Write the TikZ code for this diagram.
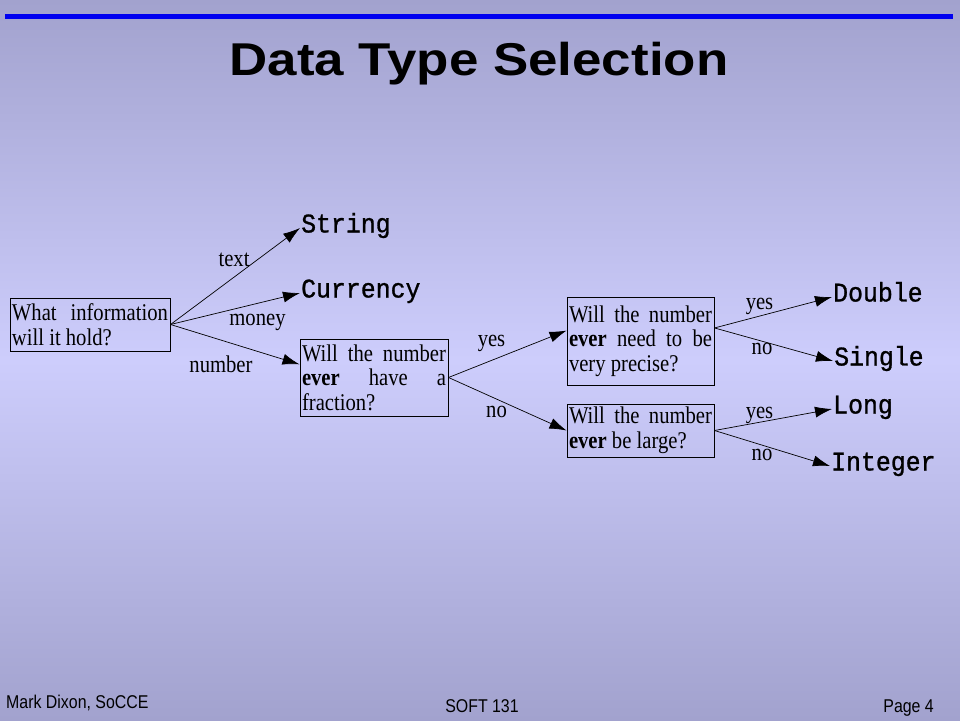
\documentclass[tikz,border=0pt]{standalone}
\usepackage{fontspec}
\setmainfont{Liberation Serif}[FakeStretch=0.86]
\newfontfamily\monofnt{Liberation Mono}[FakeStretch=0.92, FakeBold=1]
\newfontfamily\titlefnt{Liberation Sans}[FakeStretch=1.15]
\newfontfamily\footfnt{Liberation Sans}[FakeStretch=0.86]
\usetikzlibrary{arrows.meta}

\definecolor{bgedge}{RGB}{162,162,206}
\definecolor{bgmid}{RGB}{205,205,252}
\definecolor{topline}{RGB}{0,0,240}
\newcommand\qfnt{\fontsize{24}{24.5}\selectfont}
\hbadness=10000

\begin{document}
\begin{tikzpicture}[x=1pt, y=-1pt,
  question/.style={draw, line width=1pt, inner sep=2pt, align=justify, font=\qfnt},
  target/.style={anchor=west, inner sep=1pt, text height=15pt, text depth=6pt, font=\monofnt\fontsize{27}{30}\selectfont},
  lbl/.style={anchor=base, inner sep=0pt, font=\qfnt},
  foot/.style={inner sep=0pt, font=\footfnt\fontsize{18.5}{22}\selectfont},
  link/.style={line width=0.7pt, -{Latex[length=17pt,width=11pt]}}]
\useasboundingbox (0,0) rectangle (960,720);
\shade[top color=bgedge, bottom color=bgedge, middle color=bgmid] (0,0) rectangle (960,720);

%title
\draw[topline, line width=5pt] (5,16) -- (953,16);
\node[anchor=base, inner sep=0pt, font=\titlefnt\bfseries\fontsize{46}{54}\selectfont] (title) at (479,75) {Data Type Selection};

%questions
\node[question, text width=156pt, minimum height=53pt] (hold) at (90,324.5) {What information\linebreak will it hold?};
\node[question, text width=144pt, minimum height=77pt] (frac) at (374,377.5) {Will the number\linebreak \textbf{ever} have a\linebreak fraction?};
\node[question, text width=143pt, minimum height=88pt] (prec) at (640.5,341) {Will the number\linebreak \textbf{ever} need to be\linebreak very precise?};
\node[question, text width=143pt, minimum height=53pt] (large) at (640.5,430.5) {Will the number\linebreak \textbf{ever} be large?};

%data types
\foreach \nm/\x/\y/\txt in {str/300/228/String, cur/300/293/Currency, dbl/832/297/Double,
  sgl/833/361/Single, lng/832/409/Long, int/830/466/Integer}
{ \node[target] (\nm) at (\x,\y) {\txt}; }

%arrows
\draw[link] (hold.east) -- (str.west);
\draw[link] (hold.east) -- (cur.west);
\draw[link] (hold.east) -- (frac.170);
\draw[link] (frac.east) -- (prec.172);
\draw[link] (frac.east) -- (large.west);
\draw[link] (prec.10) -- (dbl.west);
\draw[link] (prec.10) -- (sgl.west);
\draw[link] (large.east) -- (lng.west);
\draw[link] (large.east) -- (int.west);

%labels
\foreach \nm/\x/\y/\txt in {ltext/234/266/text, lmoney/257.5/325/money, lnumber/221/372/number,
  lyesa/491.5/346/yes, lnoa/496.5/417/no, lyesb/759.5/309/yes, lnob/762/354/no,
  lyesc/759.5/418/yes, lnoc/762/460/no}
{ \node[lbl] (\nm) at (\x,\y) {\txt}; }

%footer
\node[foot, anchor=base west] (author) at (6,708) {Mark Dixon, SoCCE};
\node[foot, anchor=base] (course) at (482,712) {SOFT 131};
\node[foot, anchor=base east] (page) at (934,712) {Page 4};
\end{tikzpicture}
\end{document}
